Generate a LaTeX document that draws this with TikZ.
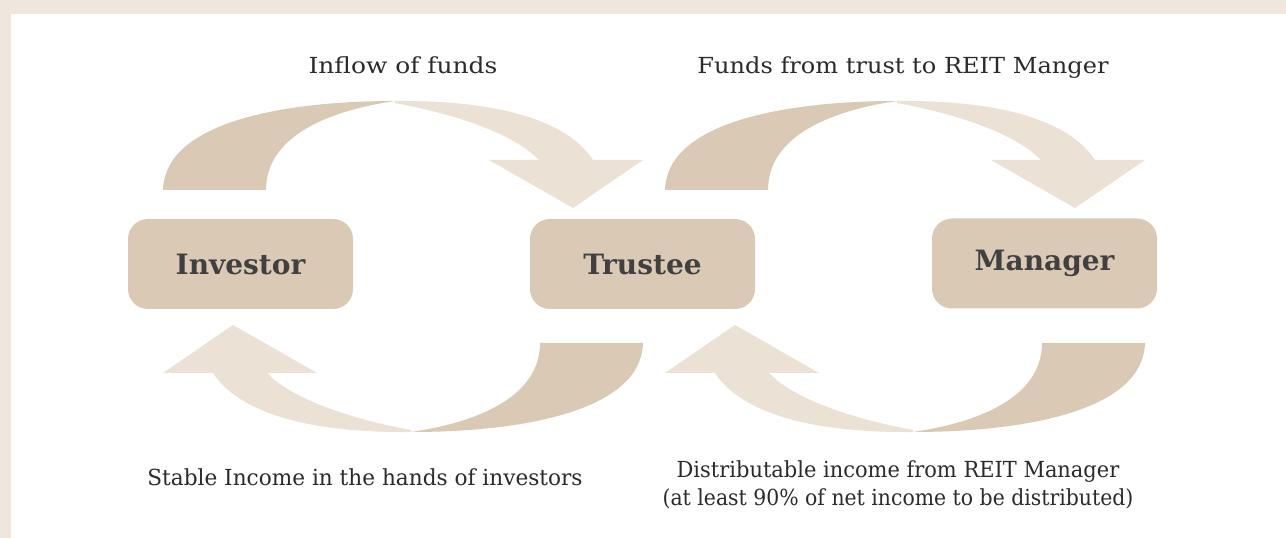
\documentclass[tikz,border=0pt]{standalone}
\usepackage{fontspec}
\setmainfont{DejaVu Serif}
\begin{document}
\definecolor{frame}{HTML}{EFE7DD}
\definecolor{tan}{HTML}{DAC9B4}
\definecolor{pale}{HTML}{EBE1D5}
\definecolor{ink}{HTML}{2B2B2B}
\definecolor{boxink}{HTML}{404040}
\begin{tikzpicture}[x=0.75pt,y=-0.75pt,
  party/.style={fill=tan,rounded corners=15pt,minimum width=168.75pt,minimum height=67.5pt,
    inner sep=0pt,font=\fontsize{21}{25}\selectfont\bfseries,text=boxink},
  caption/.style={anchor=base,inner sep=0pt,font=\fontsize{16.6}{20}\selectfont,text=ink},
  tail/.style={fill=tan},
  head/.style={fill=pale}]
\useasboundingbox (0,0) rectangle (1286,538);
% page frame
\fill[frame] (0,0) rectangle (1286,538);
\fill[white] (11,14) rectangle (1286,538);

% curved arrow drawn left to right over the top; reused by shifting and rotating
\newcommand{\bendarrow}{%
  \path[tail] (163,190) .. controls (165,120) and (290,101) .. (395,101)
     .. controls (320,112) and (266,140) .. (266,190) -- cycle;
  \path[head] (395,101) .. controls (510,100) and (570,125) .. (593,160)
     -- (643,160) -- (573,208) -- (489,160) -- (539,160)
     .. controls (515,135) and (460,115) .. (395,103) -- cycle;}

\begin{scope}\bendarrow\end{scope}
\begin{scope}[shift={(502,0)}]\bendarrow\end{scope}
\begin{scope}[rotate around={180:(403,266.5)}]\bendarrow\end{scope}
\begin{scope}[shift={(502,0)},rotate around={180:(403,266.5)}]\bendarrow\end{scope}

% parties
\node[party] (investor) at (240.5,264) {Investor};
\node[party] (trustee)  at (642.5,264) {Trustee};
\node[party] (manager)  at (1044.5,263.5) {Manager};

% flow captions
\node[caption] (inflow) at (403,74) {\scalebox{1.125}[1]{Inflow of funds}};
\node[caption] (tomgr)  at (903,74) {\scalebox{1.087}[1]{Funds from trust to REIT Manger}};
\node[caption] (stable) at (365,485) {\scalebox{0.977}[1]{Stable Income in the hands of investors}};
\node[caption] (distA)  at (898,477) {\scalebox{0.947}[1]{Distributable income from REIT Manager}};
\node[caption] (distB)  at (898,505) {\scalebox{0.922}[1]{(at least 90\% of net income to be distributed)}};
\end{tikzpicture}
\end{document}
